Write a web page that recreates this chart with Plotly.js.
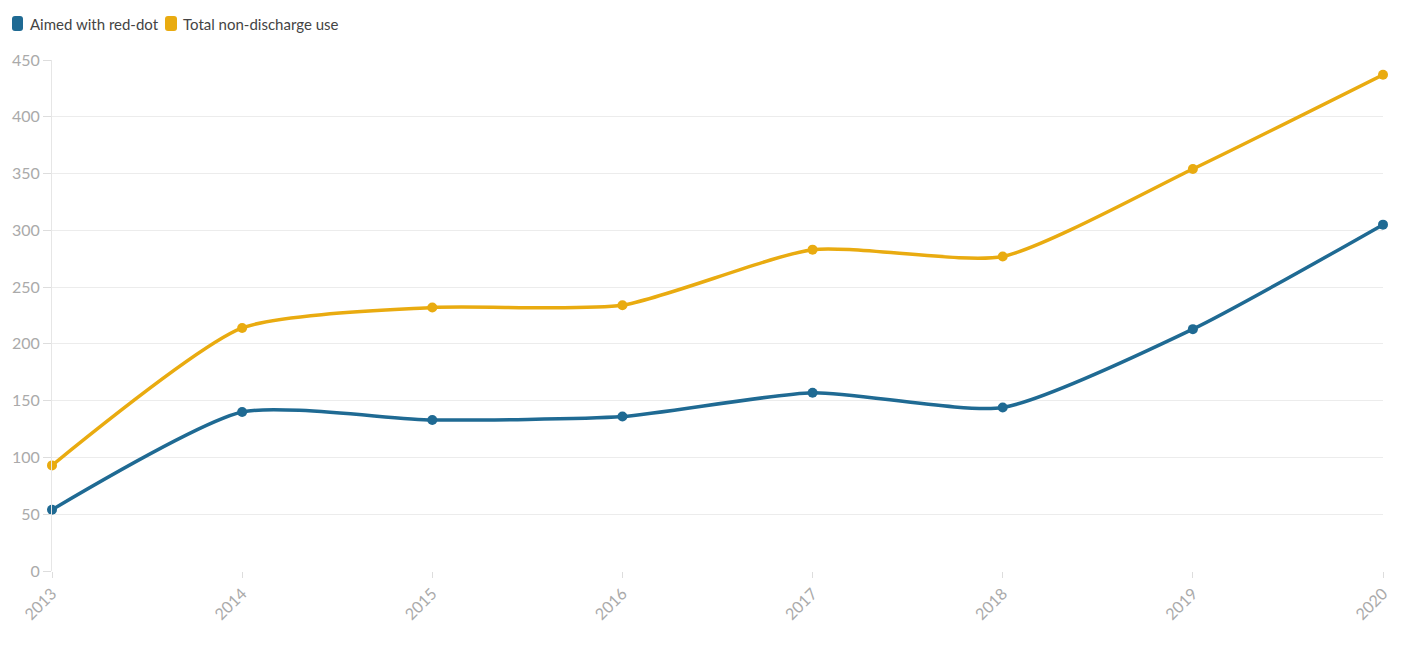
<!DOCTYPE html>
<html>
<head>
<meta charset="utf-8">
<script src="https://cdn.plot.ly/plotly-3.0.1.min.js"></script>
<style>html,body{margin:0;padding:0;background:#fff;}#chart{width:1415px;height:651px;}</style>
</head>
<body>
<div id="chart"></div>
<script>
const years = [2013, 2014, 2015, 2016, 2017, 2018, 2019, 2020];
const aimedRedDot = [54, 140, 133, 136, 157, 144, 213, 305];
const totalNonDischarge = [93, 214, 232, 234, 283, 277, 354, 437];
const seriesNames = ['Aimed with red-dot', 'Total non-discharge use'];
const colors = ['#1f6a93', '#e9ab10'];
const yTicks = [0, 50, 100, 150, 200, 250, 300, 350, 400, 450];

const L = 52, R = 1383, T = 60, B = 571;
const W = 1415, H = 651;
const px = x => (x - L) / (R - L);
const py = y => (B - y) / (B - T);

function lineTrace(y, i) {
  return {
    x: years, y: y, type: 'scatter', mode: 'lines+markers', name: seriesNames[i],
    line: {color: colors[i], width: 3.5, shape: 'spline', smoothing: 0.6},
    marker: {color: colors[i], size: 10},
    cliponaxis: false,
    showlegend: false
  };
}
const data = [lineTrace(totalNonDischarge, 1), lineTrace(aimedRedDot, 0)];

// custom legend (rounded swatches + text)
function roundRect(x0, y0, x1, y1, r) {
  const X0 = px(x0), X1 = px(x1), Y0 = py(y0), Y1 = py(y1);
  const rx = r / (R - L), ry = r / (B - T);
  return `M ${X0 + rx},${Y0} L ${X1 - rx},${Y0} Q ${X1},${Y0} ${X1},${Y0 - ry} L ${X1},${Y1 + ry} Q ${X1},${Y1} ${X1 - rx},${Y1} L ${X0 + rx},${Y1} Q ${X0},${Y1} ${X0},${Y1 + ry} L ${X0},${Y0 - ry} Q ${X0},${Y0} ${X0 + rx},${Y0} Z`;
}
const legendItems = [
  {sw: [12, 23], tx: 28},
  {sw: [165, 177], tx: 181}
];
const shapes = legendItems.map((it, i) => ({
  type: 'path', xref: 'paper', yref: 'paper',
  path: roundRect(it.sw[0], 16, it.sw[1], 31, 3),
  fillcolor: colors[i], line: {width: 0}
}));
const annotations = legendItems.map((it, i) => ({
  xref: 'paper', yref: 'paper', x: px(it.tx), y: py(24), xanchor: 'left', yanchor: 'middle',
  text: seriesNames[i], showarrow: false, font: {size: 15, color: '#444'}
}));

const layout = {
  width: W, height: H,
  margin: {l: L, r: W - R, t: T, b: H - B, autoexpand: false},
  paper_bgcolor: '#fff', plot_bgcolor: '#fff',
  font: {family: 'Lato, "Open Sans", sans-serif', size: 15, color: '#444'},
  showlegend: false,
  shapes: shapes,
  annotations: annotations,
  xaxis: {
    range: [2013, 2020], tickvals: years, ticktext: years.map(String), tickangle: -45,
    showgrid: false, zeroline: false, showline: false, automargin: false,
    ticks: 'outside', ticklen: 6, tickcolor: '#ddd',
    tickfont: {size: 16, color: '#aaa'}
  },
  yaxis: {
    range: [0, 450], tickvals: yTicks, showgrid: true, gridcolor: '#ececec', gridwidth: 1,
    zeroline: false, showline: true, linecolor: '#e6e6e6', linewidth: 1, automargin: false,
    ticks: 'outside', ticklen: 8, tickcolor: '#ddd',
    tickfont: {size: 16, color: '#aaa'}
  },
  hovermode: 'closest'
};
Plotly.newPlot('chart', data, layout, {displayModeBar: false, responsive: false});
</script>
</body>
</html>
